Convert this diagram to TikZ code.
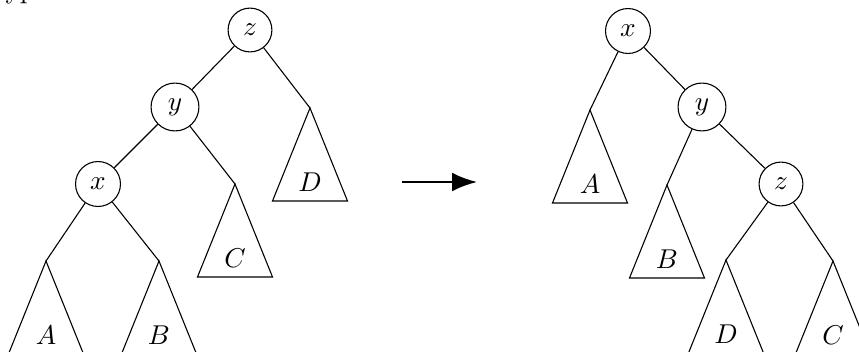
\documentclass[tikz,border=0pt]{standalone}
\usetikzlibrary{arrows.meta,calc}
\newcommand\mytri[3]{%
  \coordinate (#1) at #2;
  \draw (#1) -- ++(-37.5,93) -- ++(75,0) -- cycle;
  \node[lbl] (#1l) at ($(#1)+(0,74)$) {$#3$};
}
\begin{document}
\begin{tikzpicture}[x=0.012903cm,y=-0.012903cm,
  vtx/.style={draw,circle},
  lbl/.style={inner sep=0pt},
  edge/.style={draw},
  rot/.style={-{Latex[length=3.2mm,width=2.4mm]},thick}]
\useasboundingbox (0,0) rectangle (859,351);
% fragment of the text above, cut off
\node[anchor=base west,inner sep=0pt] (frag) at (5,-1.3) {yp};
% left tree
\node[vtx] (lz) at (250,30) {$z$};
\node[vtx] (ly) at (175,107) {$y$};
\node[vtx] (lx) at (98,184) {$x$};
\mytri{lD}{(310,108)}{D}
\mytri{lC}{(235,184)}{C}
\mytri{lA}{(46,261)}{A}
\mytri{lB}{(159,261)}{B}
\draw (lz) -- (ly);
\draw (lz) -- (lD);
\draw (ly) -- (lx);
\draw (ly) -- (lC);
\draw (lx) -- (lA);
\draw (lx) -- (lB);
% arrow
\coordinate (a1) at (402,182);
\coordinate (a2) at (477,182);
\draw[rot] (a1) -- (a2);
% right tree
\node[vtx] (rx) at (628,31) {$x$};
\node[vtx] (ry) at (702,107) {$y$};
\node[vtx] (rz) at (781,184) {$z$};
\mytri{rA}{(590,110)}{A}
\mytri{rB}{(667,185)}{B}
\mytri{rD}{(726,260)}{D}
\mytri{rC}{(833,261)}{C}
\draw (rx) -- (ry);
\draw (rx) -- (rA);
\draw (ry) -- (rz);
\draw (ry) -- (rB);
\draw (rz) -- (rD);
\draw (rz) -- (rC);
\end{tikzpicture}
\end{document}
